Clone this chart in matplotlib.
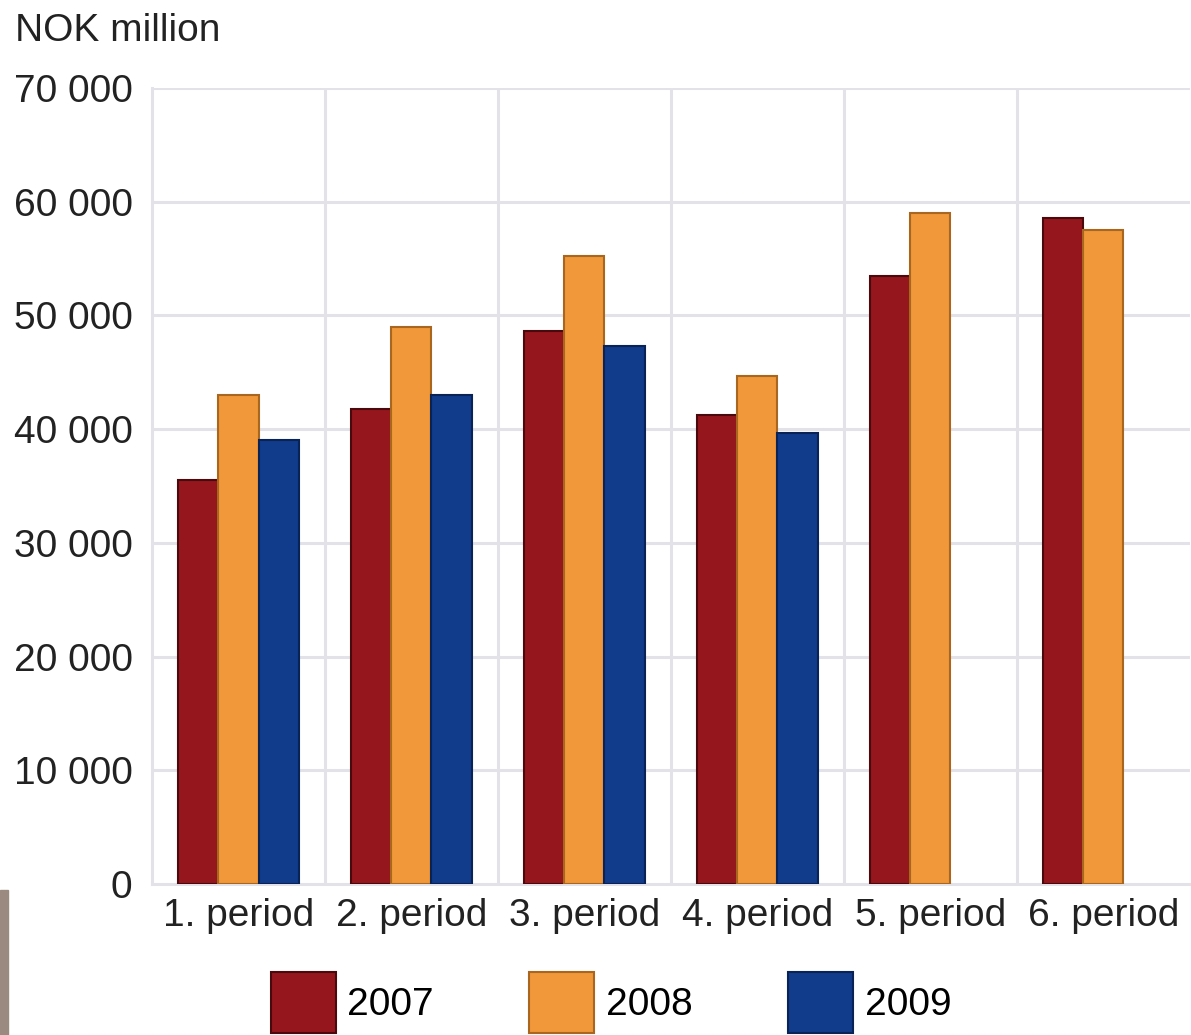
import numpy as np
import matplotlib
matplotlib.use("Agg")
import matplotlib.pyplot as plt
from matplotlib.patches import Rectangle

categories = ["1. period", "2. period", "3. period", "4. period", "5. period", "6. period"]
years = ["2007", "2008", "2009"]
v2007 = [35500, 41800, 48600, 41200, 53500, 58600]
v2008 = [43000, 49000, 55200, 44700, 59000, 57500]
v2009 = [39000, 43000, 47300, 39700, np.nan, np.nan]
yticks = [0, 10000, 20000, 30000, 40000, 50000, 60000, 70000]

colors = ["#95161c", "#f0983a", "#113c8c"]
edges = ["#4a0a0d", "#a8661f", "#0a2356"]

plt.rcParams["font.family"] = ["Liberation Sans", "DejaVu Sans"]

fig = plt.figure(figsize=(11.91, 10.35), dpi=100)
ax = fig.add_axes([0.1276, 0.1459, 0.8714, 0.7691])

x = np.arange(len(categories))
w = 0.232
for i, vals in enumerate([v2007, v2008, v2009]):
    ax.bar(x + (i - 1) * w, vals, width=w, color=colors[i], edgecolor=edges[i],
           linewidth=1.5, label=years[i], zorder=3)

ax.set_xlim(-0.5, len(categories) - 0.5)
ax.set_ylim(0, 70000)
ax.set_yticks(yticks)
ax.set_yticklabels([f"{v:,}".replace(",", " ") for v in yticks])
ax.set_xticks(x)
ax.set_xticklabels(categories)
ax.tick_params(length=0, labelsize=28, colors="#222222")
ax.tick_params(axis="y", pad=14)
ax.tick_params(axis="x", pad=10)

# grid: horizontal at ticks, vertical at category borders
for y in yticks[1:]:
    ax.axhline(y, color="#e2e2e8", lw=2.2, zorder=1)
for b in np.arange(0.5, len(categories) - 0.5, 1):
    ax.axvline(b, color="#e2e2e8", lw=2.2, zorder=1)
for s in ax.spines.values():
    s.set_color("#e2e2e8")
    s.set_linewidth(2.2)
ax.spines["top"].set_visible(False)
ax.spines["right"].set_visible(False)

fig.text(0.013, 0.97, "NOK million", fontsize=28, color="#222222", va="center")

fig.legend(loc="upper center", bbox_to_anchor=(0.513, 0.061), ncol=3, frameon=False,
           fontsize=28, handlelength=1.67, handleheight=2.05, handletextpad=0.3,
           columnspacing=2.45, borderaxespad=0, borderpad=0)

fig.patches.append(Rectangle((0, 0), 0.007, 0.14, transform=fig.transFigure,
                             color="#9a8a80", zorder=0))

fig.savefig("out.png", dpi=100)
